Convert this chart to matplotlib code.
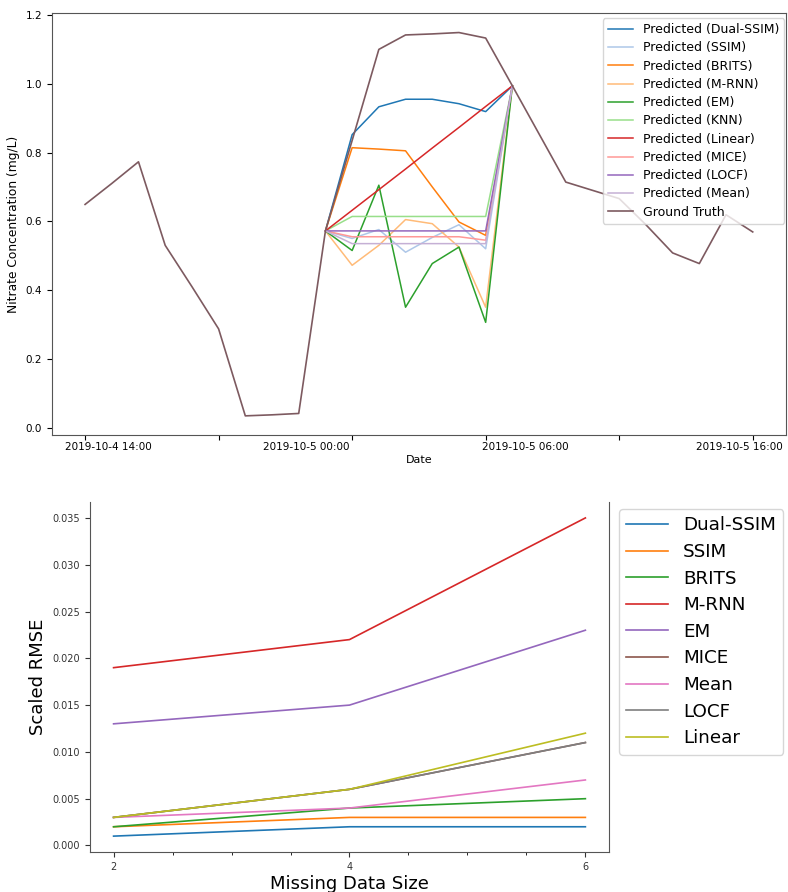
import numpy as np
import matplotlib
matplotlib.use("Agg")
import matplotlib.pyplot as plt
from matplotlib.ticker import MultipleLocator

# ---- top chart data (index = time step) ----
steps = list(range(26))
ground_truth = [0.649, 0.71, 0.773, 0.53, 0.41, 0.287, 0.034, 0.037, 0.041, 0.572,
                0.835, 1.10, 1.142, 1.145, 1.149, 1.133, 0.994, 0.854, 0.714, 0.69,
                0.666, 0.59, 0.508, 0.477, 0.619, 0.569]
gap = list(range(9, 17))  # imputed window incl. both ends
pred = {
    "Dual-SSIM": [0.572, 0.852, 0.933, 0.955, 0.955, 0.942, 0.919, 0.994],
    "SSIM":      [0.572, 0.55, 0.576, 0.51, 0.553, 0.59, 0.52, 0.994],
    "BRITS":     [0.572, 0.814, 0.81, 0.805, 0.70, 0.598, 0.559, 0.994],
    "M-RNN":     [0.572, 0.472, 0.53, 0.605, 0.593, 0.525, 0.35, 0.994],
    "EM":        [0.572, 0.515, 0.705, 0.35, 0.477, 0.525, 0.306, 0.994],
    "KNN":       [0.572, 0.614, 0.614, 0.614, 0.614, 0.614, 0.614, 0.994],
    "Linear":    [0.572, 0.632, 0.692, 0.752, 0.813, 0.873, 0.934, 0.994],
    "MICE":      [0.572, 0.555, 0.555, 0.555, 0.555, 0.555, 0.545, 0.994],
    "LOCF":      [0.572, 0.572, 0.572, 0.572, 0.572, 0.572, 0.572, 0.994],
    "Mean":      [0.572, 0.535, 0.535, 0.535, 0.535, 0.535, 0.535, 0.994],
}
tick_steps = [0, 5, 10, 15, 20, 25]
label_pos = [0.86, 8.3, 16.5, 24.5]
date_labels = ["2019-10-4 14:00", "2019-10-5 00:00", "2019-10-5 06:00", "2019-10-5 16:00"]

# ---- bottom chart data ----
sizes = [2, 4, 6]
rmse = {
    "Dual-SSIM": [0.001, 0.002, 0.002],
    "SSIM":      [0.002, 0.003, 0.003],
    "BRITS":     [0.002, 0.004, 0.005],
    "M-RNN":     [0.019, 0.022, 0.035],
    "EM":        [0.013, 0.015, 0.023],
    "MICE":      [0.003, 0.006, 0.011],
    "Mean":      [0.003, 0.004, 0.007],
    "LOCF":      [0.003, 0.006, 0.011],
    "Linear":    [0.003, 0.006, 0.012],
}

fig = plt.figure(figsize=(7.88, 8.92), dpi=100)

# top
ax1 = fig.add_axes([0.0656, 0.5123, 0.932, 0.4727])
cmap = plt.get_cmap("tab20")
for k, (name, vals) in enumerate(pred.items()):
    ax1.plot(gap, vals, color=cmap(k), lw=1.1, label="Predicted (%s)" % name)
ax1.plot(steps, ground_truth, color="#7d5a60", lw=1.2, label="Ground Truth")
ax1.set_xticks(tick_steps)
ax1.set_xticklabels([])
ax1.set_xticks(label_pos, date_labels, minor=True)
ax1.tick_params(axis="x", which="minor", length=0, labelsize=7.5, pad=5)
ax1.tick_params(axis="both", which="major", labelsize=7.5)
ax1.set_xlabel("Date", fontsize=8, labelpad=2)
ax1.set_ylabel("Nitrate Concentration (mg/L)", fontsize=8.8)
ax1.legend(loc="upper right", fontsize=9, labelspacing=0.42,
           bbox_to_anchor=(1.0, 0.993), borderaxespad=0.15, framealpha=0.8)
for s in ax1.spines.values():
    s.set_color("#555555")

# bottom
ax2 = fig.add_axes([0.1142, 0.0448, 0.6586, 0.3924])
for name, vals in rmse.items():
    ax2.plot(sizes, vals, lw=1.2, label=name)
ax2.set_xticks(sizes)
ax2.xaxis.set_minor_locator(MultipleLocator(0.5))
ax2.tick_params(axis="both", labelsize=7, colors="#333333")
ax2.set_xlabel("Missing Data Size", fontsize=13, labelpad=2)
ax2.set_ylabel("Scaled RMSE", fontsize=13)
ax2.spines["top"].set_visible(False)
for s in ["left", "right", "bottom"]:
    ax2.spines[s].set_color("#555555")
fig.legend(*ax2.get_legend_handles_labels(), loc="upper left",
           bbox_to_anchor=(0.7855, 0.4294), fontsize=13.2, labelspacing=0.47,
           handlelength=2.3, borderaxespad=0)

fig.savefig("out.png", dpi=100)
